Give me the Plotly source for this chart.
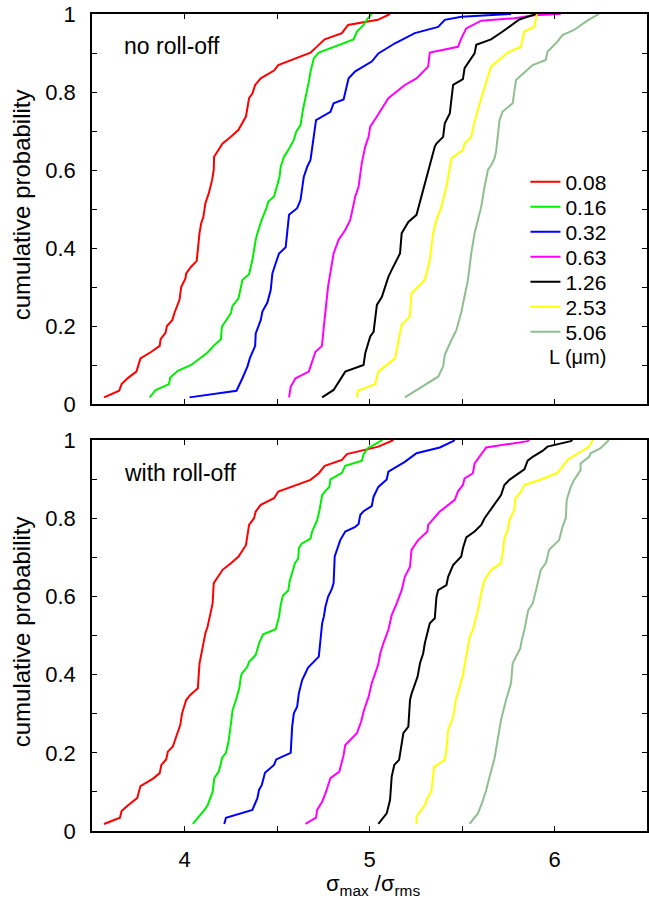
import plotly.graph_objects as go

# ---------------- data ----------------
labels = ["0.08", "0.16", "0.32", "0.63", "1.26", "2.53", "5.06"]
colors = ["#ff0000", "#00ee00", "#0000ff", "#ff00ff", "#000000", "#ffff00", "#8fbf8f"]

# no roll-off (top panel)
top_008_x = [3.565,3.647,3.660,3.695,3.740,3.762,3.821,3.866,3.871,3.898,3.905,3.934,3.946,3.973,3.982,4.005,4.009,4.036,4.066,4.071,4.081,4.090,4.102,4.113,4.131,4.149,4.158,4.160,4.206,4.251,4.292,4.332,4.349,4.367,4.382,4.412,4.484,4.507,4.681,4.717,4.758,4.851,4.884,5.045,5.111]
top_008_y = [0.017,0.034,0.051,0.067,0.083,0.117,0.134,0.149,0.166,0.183,0.200,0.215,0.234,0.267,0.300,0.322,0.335,0.352,0.367,0.395,0.438,0.463,0.480,0.515,0.540,0.574,0.600,0.634,0.668,0.685,0.703,0.737,0.784,0.796,0.818,0.835,0.855,0.869,0.901,0.917,0.935,0.951,0.972,0.985,1.0]
top_016_x = [3.812,3.844,3.916,3.923,3.964,4.036,4.125,4.161,4.197,4.202,4.251,4.259,4.292,4.304,4.313,4.349,4.367,4.385,4.394,4.417,4.443,4.453,4.484,4.502,4.514,4.520,4.538,4.561,4.591,4.604,4.627,4.640,4.654,4.672,4.681,4.699,4.726,4.914,4.932,4.968,4.991,5.012]
top_016_y = [0.017,0.036,0.051,0.068,0.085,0.100,0.132,0.151,0.166,0.198,0.233,0.251,0.271,0.301,0.318,0.333,0.369,0.421,0.438,0.472,0.502,0.519,0.532,0.562,0.583,0.608,0.634,0.651,0.677,0.698,0.715,0.754,0.784,0.826,0.852,0.886,0.901,0.935,0.955,0.972,0.989,1.0]
top_032_x = [4.027,4.281,4.313,4.340,4.353,4.382,4.385,4.412,4.421,4.448,4.466,4.475,4.493,4.511,4.547,4.565,4.609,4.627,4.645,4.663,4.681,4.699,4.711,4.789,4.806,4.860,4.887,4.923,5.012,5.048,5.138,5.245,5.371,5.407,5.497,5.765]
top_032_y = [0.017,0.034,0.066,0.096,0.117,0.149,0.181,0.215,0.237,0.260,0.292,0.335,0.361,0.386,0.402,0.485,0.502,0.523,0.583,0.608,0.626,0.694,0.728,0.749,0.771,0.781,0.835,0.853,0.878,0.899,0.925,0.951,0.967,0.985,0.993,1.0]
top_063_x = [4.565,4.574,4.600,4.672,4.708,4.743,4.753,4.761,4.776,4.806,4.833,4.869,4.896,4.923,4.941,4.958,4.977,4.995,5.004,5.040,5.102,5.191,5.254,5.317,5.326,5.478,5.497,5.523,5.604,5.783,5.891,6.034]
top_063_y = [0.017,0.044,0.066,0.083,0.134,0.149,0.198,0.233,0.301,0.386,0.421,0.446,0.472,0.532,0.557,0.617,0.660,0.685,0.711,0.737,0.784,0.818,0.835,0.865,0.901,0.916,0.938,0.963,0.983,0.989,0.997,1.0]
top_126_x = [4.744,4.806,4.869,4.968,4.977,5.004,5.022,5.040,5.067,5.102,5.120,5.165,5.174,5.210,5.254,5.290,5.308,5.335,5.353,5.362,5.398,5.407,5.434,5.452,5.505,5.514,5.568,5.577,5.657,5.720,5.810,5.900]
top_126_y = [0.017,0.036,0.083,0.100,0.130,0.173,0.185,0.254,0.275,0.326,0.344,0.386,0.438,0.467,0.485,0.549,0.583,0.626,0.660,0.668,0.685,0.720,0.745,0.818,0.833,0.861,0.899,0.921,0.935,0.955,0.986,1.0]
top_253_x = [4.932,4.937,5.031,5.048,5.138,5.174,5.218,5.227,5.299,5.326,5.344,5.362,5.389,5.416,5.443,5.505,5.514,5.550,5.568,5.604,5.657,5.747,5.819,5.837,5.891,5.905]
top_253_y = [0.017,0.034,0.051,0.083,0.117,0.203,0.224,0.284,0.318,0.369,0.438,0.472,0.506,0.557,0.630,0.651,0.668,0.685,0.724,0.784,0.865,0.901,0.916,0.955,0.967,1.0]
top_506_x = [5.191,5.371,5.398,5.407,5.443,5.470,5.497,5.514,5.532,5.550,5.568,5.586,5.604,5.622,5.640,5.658,5.676,5.684,5.703,5.720,5.774,5.792,5.855,5.882,5.953,5.962,6.016,6.043,6.106,6.177,6.240]
top_506_y = [0.017,0.070,0.096,0.126,0.164,0.190,0.237,0.275,0.318,0.386,0.438,0.472,0.506,0.557,0.600,0.613,0.630,0.647,0.728,0.750,0.771,0.831,0.856,0.869,0.882,0.903,0.929,0.946,0.959,0.983,1.0]

# with roll-off (bottom panel)
bot_008_x = [3.565,3.651,3.660,3.695,3.744,3.762,3.830,3.866,3.875,3.901,3.910,3.937,3.955,3.977,3.987,4.009,4.031,4.072,4.081,4.090,4.099,4.113,4.125,4.138,4.152,4.158,4.206,4.251,4.292,4.332,4.349,4.376,4.385,4.412,4.484,4.507,4.681,4.726,4.758,4.851,4.878,5.048,5.130]
bot_008_y = [0.018,0.034,0.051,0.066,0.084,0.115,0.134,0.148,0.169,0.183,0.203,0.216,0.241,0.271,0.301,0.335,0.348,0.365,0.428,0.450,0.463,0.506,0.523,0.548,0.582,0.634,0.668,0.685,0.702,0.731,0.783,0.800,0.817,0.834,0.851,0.868,0.898,0.915,0.934,0.949,0.964,0.983,1.0]
bot_016_x = [4.045,4.071,4.108,4.125,4.152,4.161,4.185,4.197,4.202,4.224,4.238,4.251,4.260,4.278,4.296,4.305,4.310,4.340,4.349,4.385,4.403,4.425,4.493,4.511,4.520,4.532,4.561,4.568,4.582,4.597,4.615,4.618,4.633,4.681,4.690,4.717,4.730,4.744,4.762,4.783,4.789,4.851,4.869,4.959,4.968,4.995,5.022,5.070]
bot_016_y = [0.018,0.032,0.054,0.066,0.100,0.135,0.152,0.173,0.186,0.200,0.228,0.275,0.309,0.335,0.365,0.395,0.403,0.420,0.433,0.450,0.480,0.503,0.516,0.548,0.578,0.602,0.615,0.638,0.659,0.685,0.697,0.723,0.735,0.748,0.766,0.795,0.821,0.859,0.870,0.880,0.899,0.916,0.934,0.947,0.964,0.981,0.987,1.0]
bot_032_x = [4.215,4.224,4.367,4.394,4.403,4.418,4.435,4.484,4.496,4.574,4.582,4.591,4.609,4.618,4.636,4.654,4.668,4.726,4.735,4.744,4.753,4.762,4.776,4.797,4.806,4.812,4.842,4.869,4.923,4.941,4.950,4.968,5.012,5.022,5.048,5.093,5.102,5.191,5.254,5.380,5.452,5.461]
bot_032_y = [0.018,0.034,0.054,0.084,0.105,0.118,0.149,0.169,0.183,0.200,0.267,0.301,0.318,0.352,0.386,0.403,0.418,0.446,0.497,0.531,0.548,0.574,0.599,0.620,0.634,0.702,0.744,0.766,0.778,0.785,0.808,0.818,0.831,0.855,0.880,0.899,0.919,0.944,0.966,0.981,0.997,1.0]
bot_063_x = [4.654,4.711,4.717,4.744,4.762,4.789,4.837,4.860,4.869,4.932,4.955,4.970,4.995,5.012,5.040,5.048,5.058,5.075,5.102,5.120,5.147,5.174,5.191,5.219,5.227,5.263,5.313,5.317,5.380,5.461,5.478,5.505,5.514,5.559,5.568,5.631,5.855,5.864]
bot_063_y = [0.018,0.034,0.054,0.075,0.096,0.135,0.152,0.194,0.220,0.250,0.280,0.309,0.343,0.378,0.416,0.428,0.454,0.480,0.514,0.552,0.582,0.616,0.650,0.676,0.719,0.744,0.766,0.783,0.817,0.847,0.868,0.885,0.902,0.915,0.940,0.981,0.997,1.0]
bot_126_x = [5.048,5.093,5.111,5.120,5.134,5.160,5.183,5.210,5.219,5.228,5.260,5.273,5.290,5.299,5.326,5.353,5.362,5.371,5.416,5.425,5.452,5.496,5.505,5.523,5.568,5.604,5.622,5.667,5.711,5.729,5.756,5.837,5.855,5.882,5.935,5.962,6.088,6.097]
bot_126_y = [0.018,0.045,0.079,0.139,0.169,0.182,0.250,0.267,0.335,0.352,0.395,0.429,0.454,0.480,0.531,0.544,0.599,0.616,0.629,0.650,0.680,0.702,0.723,0.751,0.766,0.783,0.800,0.829,0.859,0.885,0.898,0.925,0.947,0.957,0.972,0.983,0.997,1.0]
bot_253_x = [5.254,5.254,5.299,5.313,5.335,5.349,5.407,5.416,5.425,5.452,5.470,5.478,5.505,5.518,5.529,5.542,5.559,5.577,5.586,5.604,5.622,5.658,5.711,5.720,5.729,5.747,5.756,5.783,5.789,5.819,5.837,5.926,6.016,6.070,6.187,6.204,6.208]
bot_253_y = [0.018,0.037,0.066,0.084,0.101,0.164,0.182,0.207,0.258,0.292,0.343,0.352,0.399,0.437,0.463,0.497,0.514,0.548,0.565,0.608,0.642,0.668,0.685,0.710,0.748,0.770,0.795,0.821,0.851,0.868,0.885,0.899,0.916,0.949,0.983,0.997,1.0]
bot_506_x = [5.541,5.586,5.608,5.631,5.649,5.676,5.694,5.711,5.738,5.765,5.774,5.792,5.815,5.823,5.837,5.858,5.882,5.900,5.909,5.926,5.953,5.971,6.025,6.043,6.061,6.066,6.088,6.106,6.141,6.141,6.187,6.195,6.249,6.285,6.294]
bot_506_y = [0.018,0.045,0.071,0.105,0.139,0.186,0.237,0.284,0.335,0.378,0.429,0.446,0.467,0.488,0.514,0.565,0.582,0.616,0.633,0.668,0.685,0.719,0.744,0.778,0.800,0.847,0.880,0.898,0.923,0.940,0.957,0.966,0.979,0.996,1.0]

x_tickvals = [4, 5, 6]
x_ticktext = ["4", "5", "6"]
y_tickvals = [0, 0.2, 0.4, 0.6, 0.8, 1.0]
y_ticktext = ["0", "0.2", "0.4", "0.6", "0.8", "1"]

top_series = [(top_008_x, top_008_y), (top_016_x, top_016_y), (top_032_x, top_032_y),
              (top_063_x, top_063_y), (top_126_x, top_126_y), (top_253_x, top_253_y),
              (top_506_x, top_506_y)]
bot_series = [(bot_008_x, bot_008_y), (bot_016_x, bot_016_y), (bot_032_x, bot_032_y),
              (bot_063_x, bot_063_y), (bot_126_x, bot_126_y), (bot_253_x, bot_253_y),
              (bot_506_x, bot_506_y)]

# ---------------- figure ----------------
FONT = "Liberation Sans, Arial, sans-serif"
L, R, T, B = 92, 0, 14, 68
W, H = 649, 899
ph = H - T - B
pw = W - L - R

def py(px_y):
    return (H - B - px_y) / ph

def px(px_x):
    return (px_x - L) / pw

fig = go.Figure()
legend_names = ["legend"] + ["legend%d" % i for i in range(2, 8)]
for i, ((xs, ys), lab, col) in enumerate(zip(top_series, labels, colors)):
    fig.add_trace(go.Scatter(x=xs, y=ys, mode="lines", name=lab,
                             line=dict(color=col, width=2),
                             xaxis="x2", yaxis="y2", showlegend=True,
                             legend=legend_names[i]))
for (xs, ys), lab, col in zip(bot_series, labels, colors):
    fig.add_trace(go.Scatter(x=xs, y=ys, mode="lines", name=lab,
                             line=dict(color=col, width=2),
                             xaxis="x", yaxis="y", showlegend=False))

axis_common = dict(showline=True, linecolor="black", linewidth=1.5, mirror="ticks",
                   ticks="inside", ticklen=5, tickwidth=1, tickcolor="black",
                   showgrid=False, zeroline=False, tickfont=dict(size=22))
x_minor = dict(dtick=0.5, ticks="inside", ticklen=5, tickwidth=1, tickcolor="black",
               showgrid=False)
y_minor = dict(dtick=0.1, ticks="inside", ticklen=5, tickwidth=1, tickcolor="black",
               showgrid=False)

legend_layout = {}
for i, name in enumerate(legend_names):
    legend_layout[name] = dict(x=px(527), y=py(182 + 25 * i), xanchor="left",
                               yanchor="middle", bgcolor="rgba(0,0,0,0)",
                               font=dict(family=FONT, size=21), itemwidth=30)

fig.update_layout(
    width=W, height=H,
    margin=dict(l=L, r=R, t=T, b=B),
    paper_bgcolor="white", plot_bgcolor="white",
    font=dict(family=FONT, size=22, color="black"),
    xaxis=dict(range=[3.5, 6.5], tickvals=x_tickvals, ticktext=x_ticktext, minor=x_minor,
               ticklabelstandoff=8, anchor="y", domain=[0, 1], **axis_common),
    yaxis=dict(range=[0, 1], tickvals=y_tickvals, ticktext=y_ticktext, minor=y_minor,
               ticklabelstandoff=10, anchor="x", domain=[0, py(440)], **axis_common),
    xaxis2=dict(range=[3.5, 6.5], tickvals=x_tickvals, ticktext=x_ticktext, minor=x_minor,
                showticklabels=False, anchor="y2", domain=[0, 1], **axis_common),
    yaxis2=dict(range=[0, 1], tickvals=y_tickvals, ticktext=y_ticktext, minor=y_minor,
                ticklabelstandoff=10, anchor="x2", domain=[py(404), 1], **axis_common),
    annotations=[
        dict(text="no roll-off", x=px(122), y=py(46), xref="paper", yref="paper",
             xanchor="left", yanchor="middle", showarrow=False, font=dict(size=23)),
        dict(text="with roll-off", x=px(122), y=py(473), xref="paper", yref="paper",
             xanchor="left", yanchor="middle", showarrow=False, font=dict(size=23)),
        dict(text="L (μm)", x=px(610), y=py(357), xref="paper", yref="paper",
             xanchor="right", yanchor="middle", showarrow=False, font=dict(size=20)),
        dict(text="cumulative probability", x=px(21), y=py(205), xref="paper", yref="paper",
             xanchor="center", yanchor="middle", textangle=-90, showarrow=False,
             font=dict(size=24)),
        dict(text="cumulative probability", x=px(21), y=py(632), xref="paper", yref="paper",
             xanchor="center", yanchor="middle", textangle=-90, showarrow=False,
             font=dict(size=24)),
        dict(text="σ<sub>max</sub> /σ<sub>rms</sub>", x=px(374), y=py(885),
             xref="paper", yref="paper", xanchor="center", yanchor="middle",
             showarrow=False, font=dict(size=22)),
    ],
    **legend_layout,
)

fig.write_html("out.html")
